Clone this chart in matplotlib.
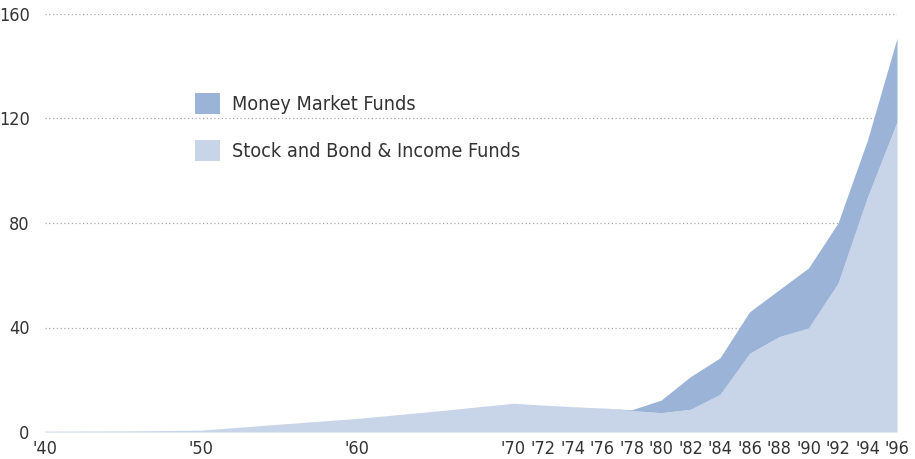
import numpy as np
import matplotlib
matplotlib.use("Agg")
import matplotlib.pyplot as plt

# shareholder accounts (millions)
years = [1940, 1945, 1950, 1955, 1960, 1965, 1970, 1972, 1974, 1976, 1978,
         1980, 1982, 1984, 1986, 1988, 1990, 1992, 1994, 1996]
stock_bond = [0.3, 0.4, 0.7, 3.0, 5.2, 8.0, 11.0, 10.3, 9.7, 9.2, 8.2,
              7.4, 8.7, 14.4, 30.1, 36.5, 39.8, 57.0, 90.0, 118.7]
money_market = [0, 0, 0, 0, 0, 0, 0, 0, 0, 0, 0.3,
                4.8, 12.5, 14.0, 15.9, 17.9, 23.0, 23.0, 21.8, 32.0]

tick_years = [1940, 1950, 1960, 1970, 1972, 1974, 1976, 1978, 1980, 1982,
              1984, 1986, 1988, 1990, 1992, 1994, 1996]
tick_labels = ["'" + str(y)[2:] for y in tick_years]
y_ticks = [0, 40, 80, 120, 160]

light = '#c8d5e8'
dark = '#9bb3d6'
txt = '#333333'

plt.rcParams['font.family'] = ['DejaVu Sans']
plt.rcParams['font.stretch'] = 'condensed'

# decades before 1970 are drawn a little wider than the 2-year steps after
k = 15.6 / 14.73
def fwd(x):
    x = np.asarray(x, dtype=float)
    return np.where(x < 1970, 1970 + (x - 1970) * k, x)
def inv(x):
    x = np.asarray(x, dtype=float)
    return np.where(x < 1970, 1970 + (x - 1970) / k, x)

fig = plt.figure(figsize=(9.15, 4.59), dpi=100)
ax = fig.add_axes([45 / 915, 27 / 459, 852 / 915, 418 / 459])
ax.set_xscale('function', functions=(fwd, inv))

top = np.array(stock_bond) + np.array(money_market)
ax.fill_between(years, 0, stock_bond, color=light, lw=0, zorder=2,
                label='Stock and Bond & Income Funds')
ax.fill_between(years, stock_bond, top, color=dark, lw=0, zorder=2,
                label='Money Market Funds')

for v in y_ticks:
    ax.axhline(v, color='#a8a8a8', lw=0.9, ls=(0, (1, 2)), zorder=1)

ax.set_xlim(1940, 1996)
ax.set_ylim(0, 160)
ax.set_yticks(y_ticks)
ax.set_yticklabels([str(v) for v in y_ticks], fontsize=13, color=txt)
ax.set_xticks(tick_years)
ax.set_xticklabels(tick_labels, fontsize=13, color=txt)
ax.xaxis.set_minor_locator(matplotlib.ticker.NullLocator())
ax.tick_params(axis='y', length=0, pad=11)
ax.tick_params(axis='x', length=0, pad=6)
for s in ax.spines.values():
    s.set_visible(False)

handles, labels = ax.get_legend_handles_labels()
leg = ax.legend(handles[::-1], labels[::-1], loc='upper left',
                bbox_to_anchor=(0.1665, 0.83), frameon=False, fontsize=14.2,
                handlelength=1.3, handleheight=1.25, handletextpad=0.6,
                labelspacing=1.3, borderaxespad=0)
for t in leg.get_texts():
    t.set_color(txt)

fig.savefig('out.png', dpi=100)
